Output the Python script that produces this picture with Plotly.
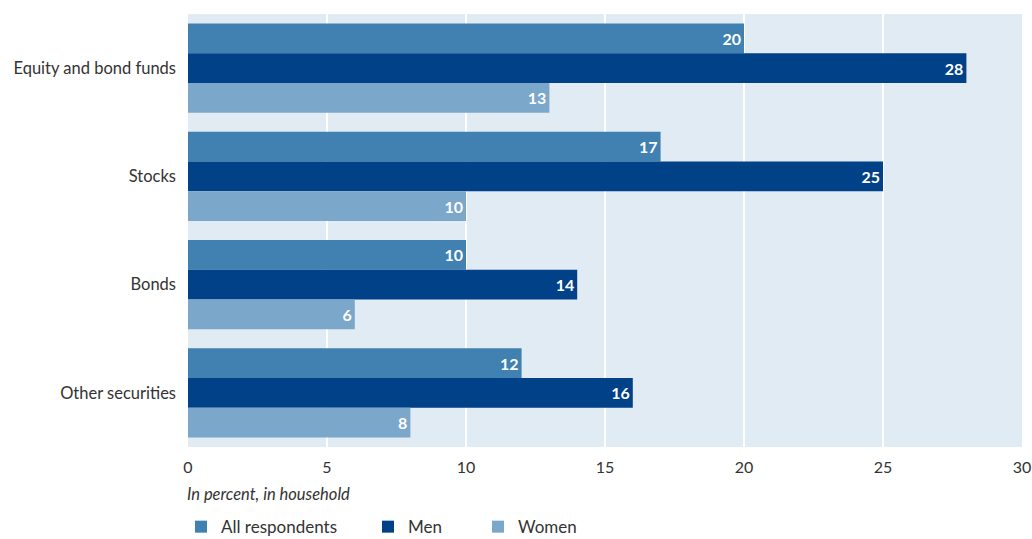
import plotly.graph_objects as go

categories = ["Equity and bond funds", "Stocks", "Bonds", "Other securities"]
all_respondents = [20, 17, 10, 12]
men = [28, 25, 14, 16]
women = [13, 10, 6, 8]

series = [
    ("All respondents", all_respondents, "#4081b1"),
    ("Men", men, "#004187"),
    ("Women", women, "#7ba7ca"),
]

FONT = "Lato, 'Open Sans', sans-serif"
TEXT = "#333333"

# one legend box per series so each entry sits at its own horizontal slot
legend_ids = ["legend", "legend2", "legend3"]
legend_x = [-0.0084, 0.2158, 0.3477]

fig = go.Figure()
for (name, vals, color), lid in zip(series, legend_ids):
    fig.add_trace(go.Bar(
        y=categories, x=vals, name=name, orientation="h",
        marker=dict(color=color, line=dict(width=0)),
        text=[f"<b>{v}</b>" for v in vals],
        textposition="inside", insidetextanchor="end",
        textfont=dict(color="white", size=16, family=FONT),
        cliponaxis=False, legend=lid,
    ))

legend_style = dict(orientation="h", xanchor="left", y=-0.185, yanchor="middle",
                    font=dict(size=17, color=TEXT), itemwidth=30,
                    bgcolor="rgba(0,0,0,0)")

fig.update_layout(
    width=1032, height=539,
    margin=dict(l=188, r=10, t=14, b=92, autoexpand=False),
    barmode="group", bargap=0.175, bargroupgap=0,
    plot_bgcolor="#e1ebf4", paper_bgcolor="white",
    font=dict(family=FONT, size=16, color=TEXT),
    uniformtext=dict(minsize=16, mode="show"),
    xaxis=dict(range=[0, 30], dtick=5, showgrid=True, gridcolor="white",
               gridwidth=1.5, zeroline=False, ticks="", showline=False,
               tickfont=dict(size=16, color=TEXT), ticklabelstandoff=9,
               automargin=False),
    yaxis=dict(autorange="reversed", showgrid=False, ticks="", showline=False,
               tickfont=dict(size=16.5, color=TEXT), ticklabelstandoff=11,
               automargin=False),
    legend=dict(x=legend_x[0], **legend_style),
    legend2=dict(x=legend_x[1], **legend_style),
    legend3=dict(x=legend_x[2], **legend_style),
    showlegend=True,
)

fig.add_annotation(
    text="<i>In percent, in household</i>", xref="paper", yref="paper",
    x=0, y=-0.108, xanchor="left", yanchor="middle", showarrow=False,
    xshift=-3, font=dict(size=16.5, color=TEXT, family=FONT),
)

fig.write_html("out.html")
